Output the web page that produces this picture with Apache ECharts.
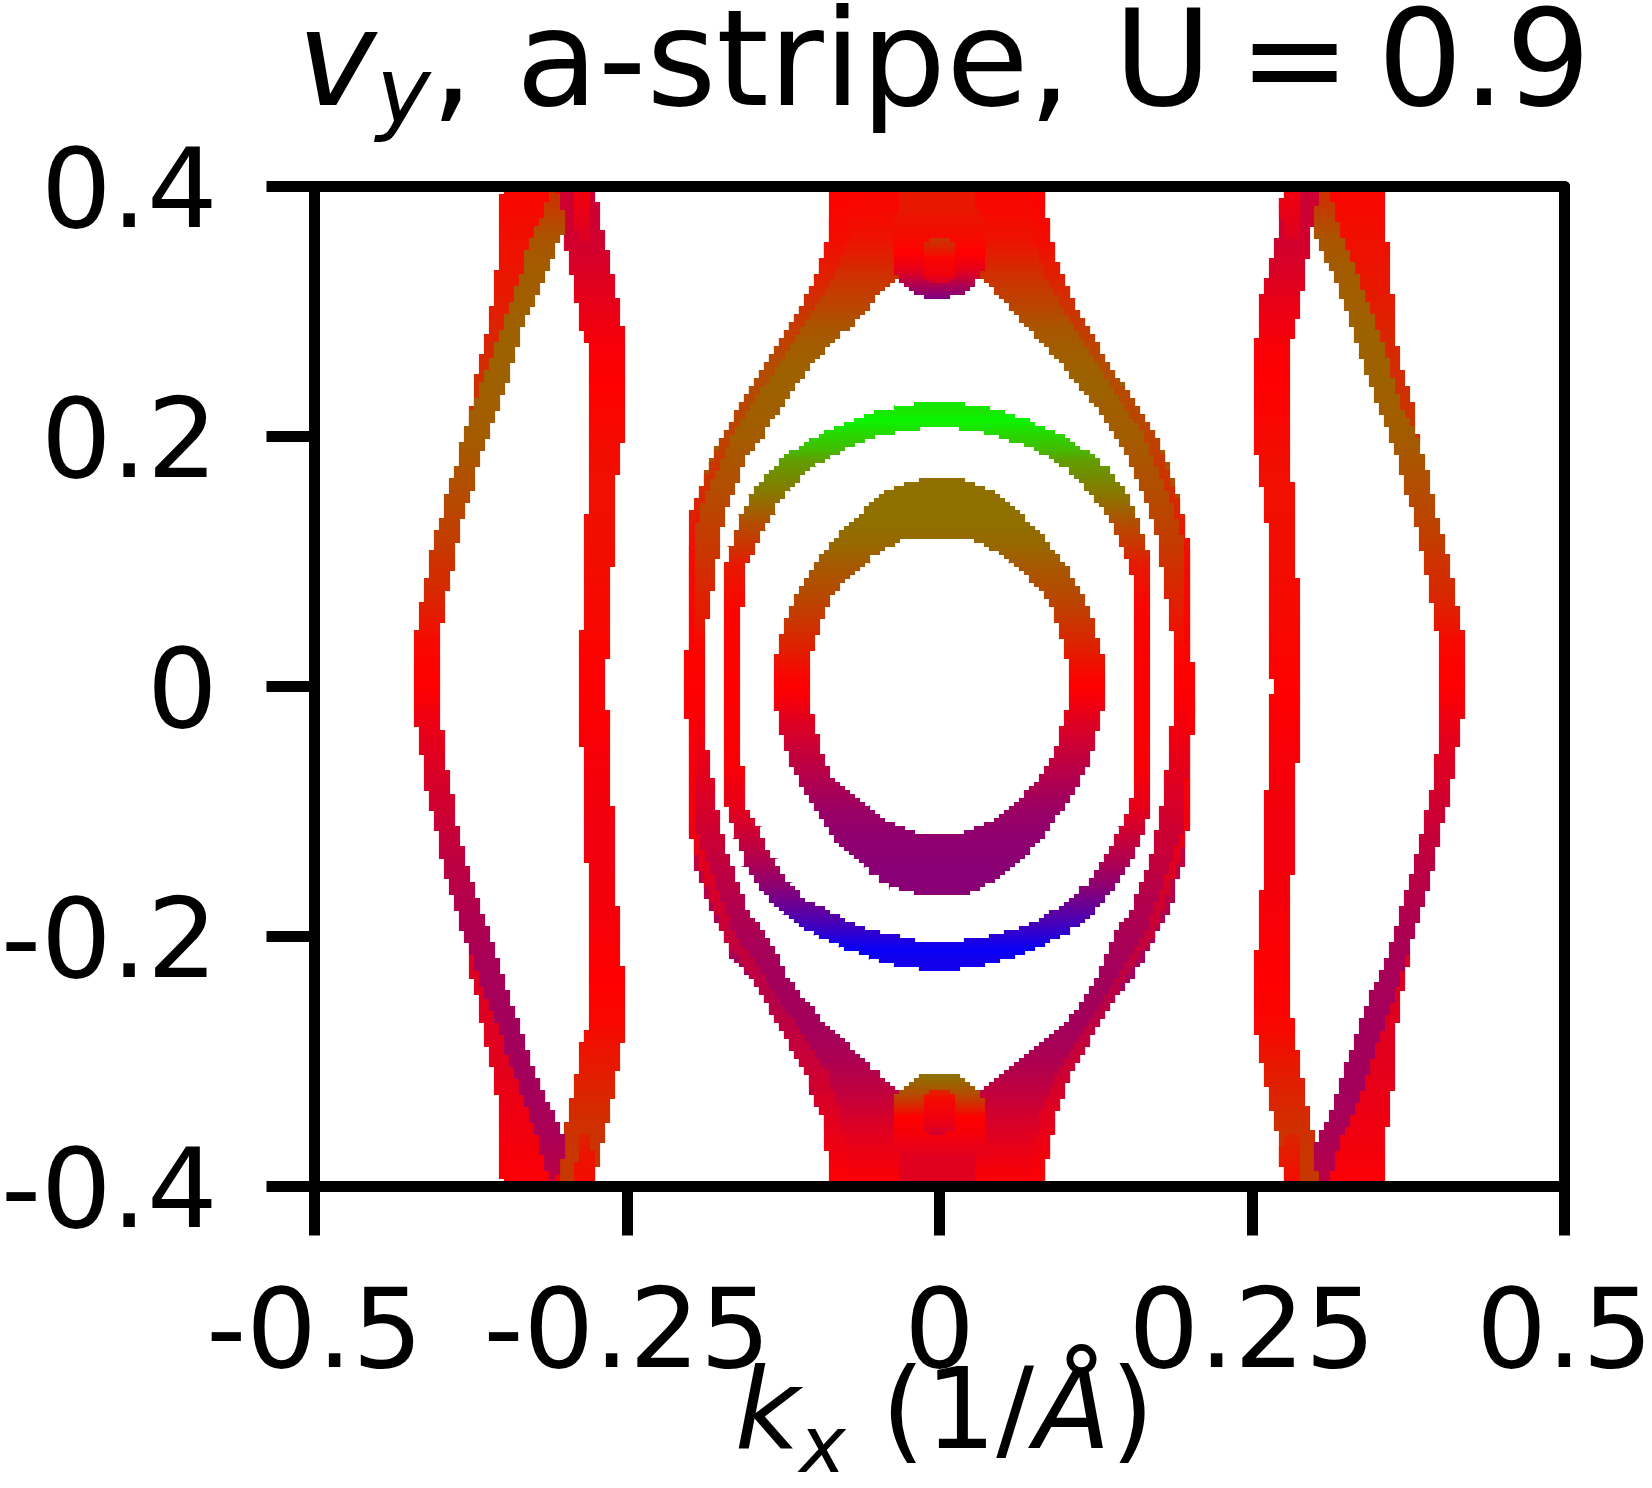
<!DOCTYPE html>
<html lang="en">
<head>
<meta charset="UTF-8">
<title>vy a-stripe U=0.9</title>
<script src="https://cdn.jsdelivr.net/npm/echarts@6/dist/echarts.min.js"></script>
<style>html,body{margin:0;background:#fff}#chart{width:1652px;height:1488px}</style>
</head>
<body>
<div id="chart"></div>
<script>
const xTickLabels = ['-0.5', '-0.25', '0', '0.25', '0.5'];
const yTickLabels = ['-0.4', '-0.2', '0', '0.2', '0.4'];

// rows: [ky, kx left, kx right, vy]   (vy: 0 red, +1 green, -1 blue)
const leftInnerRows = [
  [-0.4,-0.3092,-0.2772,0.22],[-0.3802,-0.3052,-0.2732,0.22],[-0.3612,-0.3012,-0.2692,0.2],[-0.3452,-0.2972,-0.2652,0.18],
  [-0.326,-0.2932,-0.2612,0.14],[-0.3036,-0.2892,-0.2572,0.1],[-0.2819,-0.2852,-0.2532,0.06],[-0.2725,-0.2812,-0.2532,0.03],
  [-0.237,-0.2812,-0.2532,0],[-0.1819,-0.2812,-0.2572,-0.04],[-0.1477,-0.2812,-0.2612,-0.05],[-0.1061,-0.2852,-0.2612,-0.05],
  [-0.0524,-0.2852,-0.2652,-0.03],[-0.0235,-0.2892,-0.2652,-0.01],[0,-0.2892,-0.2692,0],[0.0275,-0.2892,-0.2652,0.01],
  [0.05,-0.2852,-0.2652,0.03],[0.1069,-0.2852,-0.2612,0.05],[0.145,-0.2812,-0.2612,0.06],[0.1733,-0.2812,-0.2572,0.06],
  [0.1997,-0.2812,-0.2532,0.04],[0.2421,-0.2812,-0.2532,0],[0.2733,-0.2812,-0.2532,-0.03],[0.2829,-0.2852,-0.2532,-0.05],
  [0.3044,-0.2892,-0.2572,-0.09],[0.3267,-0.2932,-0.2612,-0.13],[0.346,-0.2972,-0.2652,-0.17],[0.362,-0.3012,-0.2692,-0.19],
  [0.3813,-0.3052,-0.2732,-0.2],[0.4,-0.3092,-0.2772,-0.2]
];
const leftInnerCapTop = [[0.355,-0.2872,-0.2812,-0.14],[0.3813,-0.2932,-0.2812,-0.08],[0.4,-0.2932,-0.2772,-0.04]];
const leftInnerCapBottom = [[-0.4,-0.2932,-0.2772,0.04],[-0.3739,-0.2892,-0.2772,0.08],[-0.36,-0.2892,-0.2812,0.13]];
const leftWedgeTop = [
  [0.2063,-0.3772,-0.3732,0.22],[0.2284,-0.3732,-0.3652,0.2],[0.2559,-0.3692,-0.3532,0.17],[0.2834,-0.3612,-0.3412,0.14],
  [0.311,-0.3572,-0.3332,0.1],[0.3386,-0.3532,-0.3212,0.08],[0.3661,-0.3532,-0.3092,0.05],[0.4,-0.3492,-0.3052,0.02]
];
const leftWedgeBottom = [
  [-0.4,-0.3492,-0.3052,-0.01],[-0.3609,-0.3532,-0.3052,-0.05],[-0.3292,-0.3532,-0.3172,-0.08],[-0.3058,-0.3572,-0.3252,-0.11],
  [-0.2819,-0.3632,-0.3372,-0.12],[-0.2507,-0.3692,-0.3532,-0.13],[-0.2213,-0.3772,-0.3652,-0.12],[-0.2053,-0.3772,-0.3732,-0.12]
];
const leftOuterRows = [
  [-0.4,-0.3112,-0.3092,-0.25],[-0.3898,-0.3132,-0.3052,-0.28],[-0.3772,-0.3172,-0.3012,-0.3],[-0.3612,-0.3212,-0.3012,-0.33],
  [-0.3389,-0.3292,-0.3112,-0.35],[-0.3163,-0.3372,-0.3212,-0.36],[-0.2948,-0.3452,-0.3292,-0.36],[-0.2692,-0.3532,-0.3372,-0.36],
  [-0.2466,-0.3632,-0.3452,-0.35],[-0.2213,-0.3712,-0.3532,-0.34],[-0.1956,-0.3812,-0.3612,-0.32],[-0.1681,-0.3892,-0.3712,-0.29],
  [-0.1411,-0.3972,-0.3792,-0.26],[-0.1152,-0.4012,-0.3856,-0.22],[-0.0907,-0.4084,-0.3892,-0.18],[-0.0651,-0.4124,-0.395,-0.14],
  [-0.0394,-0.4164,-0.3972,-0.1],[-0.0193,-0.4204,-0.4012,-0.05],[0,-0.4204,-0.4012,0],[0.0355,-0.4204,-0.4012,0.03],
  [0.055,-0.4164,-0.3972,0.1],[0.0768,-0.4124,-0.3936,0.16],[0.0961,-0.4084,-0.3892,0.19],[0.1182,-0.4044,-0.3852,0.24],
  [0.1374,-0.3972,-0.3812,0.27],[0.1595,-0.3932,-0.3732,0.3],[0.1788,-0.3852,-0.3692,0.33],[0.2008,-0.3812,-0.3612,0.36],
  [0.2229,-0.3732,-0.3532,0.37],[0.2449,-0.3652,-0.3452,0.38],[0.2669,-0.3572,-0.3392,0.38],[0.289,-0.3492,-0.3332,0.38],
  [0.311,-0.3412,-0.3232,0.37],[0.3331,-0.3332,-0.3132,0.36],[0.3523,-0.3292,-0.3072,0.34],[0.362,-0.3252,-0.3012,0.32],
  [0.378,-0.3172,-0.3012,0.25],[0.3909,-0.3132,-0.3052,0.2],[0.4,-0.3112,-0.3072,0.18]
];

const rightInnerRows = [
  [-0.4,0.2764,0.3084,0.22],[-0.3868,0.2744,0.3044,0.22],[-0.3642,0.2724,0.3004,0.2],[-0.3483,0.2684,0.2964,0.18],
  [-0.3292,0.2644,0.2924,0.14],[-0.3067,0.2584,0.2884,0.1],[-0.2852,0.2564,0.2844,0.06],[-0.2755,0.2524,0.2824,0.03],
  [-0.237,0.2524,0.2804,0],[-0.1736,0.2564,0.2804,-0.04],[-0.1444,0.2604,0.2824,-0.05],[-0.1028,0.2604,0.2844,-0.05],
  [-0.0524,0.2644,0.2864,-0.03],[-0.0108,0.2644,0.2884,-0.005],[0,0.2684,0.2884,0],[0.0116,0.2644,0.2884,0.01],
  [0.05,0.2644,0.2884,0.03],[0.1069,0.2644,0.2844,0.05],[0.145,0.2604,0.2844,0.06],[0.1733,0.2564,0.2804,0.06],
  [0.1964,0.2524,0.2804,0.04],[0.2421,0.2524,0.2804,0],[0.2763,0.2524,0.2804,-0.03],[0.2829,0.2564,0.2844,-0.05],
  [0.3077,0.2564,0.2884,-0.09],[0.33,0.2624,0.2924,-0.14],[0.346,0.2664,0.2944,-0.17],[0.362,0.2704,0.2964,-0.19],
  [0.3846,0.2724,0.3044,-0.2],[0.4,0.2764,0.3084,-0.2]
];
const rightInnerCapTop = [[0.3573,0.2764,0.2884,-0.13],[0.3846,0.2724,0.2884,-0.08],[0.4,0.2764,0.2884,-0.04]];
const rightInnerCapBottom = [[-0.4,0.2764,0.2884,0.04],[-0.3747,0.2724,0.2884,0.1],[-0.36,0.2764,0.2884,0.14]];
const rightWedgeTop = [
  [0.1964,0.3784,0.3824,0.2],[0.2118,0.3704,0.3804,0.2],[0.2339,0.3584,0.3764,0.19],[0.2559,0.3484,0.3684,0.17],
  [0.2834,0.3364,0.3644,0.14],[0.3044,0.3284,0.3624,0.11],[0.3364,0.3164,0.3604,0.08],[0.3661,0.3084,0.3564,0.05],[0.4,0.3064,0.3564,0.02]
];
const rightWedgeBottom = [
  [-0.4,0.3064,0.3564,-0.01],[-0.3665,0.3164,0.3564,-0.05],[-0.3356,0.3244,0.3604,-0.08],[-0.3036,0.3364,0.3644,-0.11],
  [-0.2783,0.3444,0.3644,-0.12],[-0.2532,0.3524,0.3684,-0.13],[-0.2306,0.3604,0.3724,-0.13],[-0.2113,0.3724,0.3764,-0.13]
];
const rightOuterRows = [
  [-0.4,0.3064,0.3104,-0.25],[-0.3926,0.3044,0.3124,-0.28],[-0.3802,0.3004,0.3164,-0.3],[-0.3612,0.3024,0.3204,-0.33],
  [-0.3389,0.3144,0.3324,-0.35],[-0.3163,0.3204,0.3404,-0.36],[-0.2948,0.3284,0.3464,-0.36],[-0.2692,0.3364,0.3564,-0.36],
  [-0.2466,0.3444,0.3644,-0.35],[-0.2213,0.3564,0.3724,-0.34],[-0.1956,0.3644,0.3804,-0.32],[-0.1681,0.3724,0.3884,-0.29],
  [-0.1411,0.3804,0.3964,-0.26],[-0.1152,0.3864,0.4,-0.22],[-0.0907,0.3924,0.4076,-0.18],[-0.0651,0.3964,0.4116,-0.14],
  [-0.0394,0.3996,0.4156,-0.1],[-0.0193,0.3996,0.4196,-0.05],[0,0.3996,0.4196,0],[0.0355,0.3996,0.4196,0.03],
  [0.055,0.3964,0.4156,0.1],[0.0768,0.3924,0.4116,0.16],[0.0961,0.3884,0.4076,0.19],[0.1182,0.3844,0.4036,0.24],
  [0.1374,0.3804,0.3964,0.27],[0.1595,0.3724,0.3924,0.3],[0.1788,0.3684,0.3884,0.33],[0.2008,0.3604,0.3804,0.36],
  [0.2229,0.3524,0.3684,0.37],[0.2449,0.3444,0.3624,0.38],[0.2669,0.3364,0.3564,0.38],[0.289,0.3304,0.3484,0.38],
  [0.311,0.3224,0.3404,0.37],[0.3331,0.3144,0.3324,0.36],[0.3523,0.3044,0.3244,0.34],[0.362,0.3004,0.3204,0.32],
  [0.378,0.3004,0.3164,0.25],[0.3909,0.3044,0.3124,0.2],[0.4,0.3064,0.3104,0.18]
];

const centerLeftRows = [
  [-0.4,-0.086,-0.026,-0.01],[-0.3739,-0.086,-0.026,-0.07],[-0.3549,-0.09,-0.026,-0.13],[-0.342,-0.094,-0.026,-0.18],
  [-0.326,-0.102,-0.03,-0.24],[-0.31,-0.106,-0.05,-0.29],[-0.2948,-0.114,-0.066,-0.33],[-0.2725,-0.126,-0.09,-0.36],
  [-0.2532,-0.138,-0.106,-0.36],[-0.2339,-0.15,-0.122,-0.36],[-0.2149,-0.166,-0.13,-0.35],[-0.1956,-0.174,-0.142,-0.33],
  [-0.1797,-0.182,-0.154,-0.31],[-0.1571,-0.19,-0.162,-0.27],[-0.1348,-0.198,-0.17,-0.23],[-0.1188,-0.198,-0.174,-0.2],
  [-0.0992,-0.202,-0.178,-0.17],[-0.0747,-0.202,-0.182,-0.12],[-0.0524,-0.202,-0.186,-0.08],[-0.0268,-0.202,-0.188,-0.03],
  [0,-0.2052,-0.19,0],[0.0308,-0.202,-0.188,0.02],[0.0548,-0.202,-0.186,0.1],[0.0757,-0.202,-0.182,0.14],
  [0.1014,-0.202,-0.178,0.2],[0.1132,-0.198,-0.178,0.22],[0.1421,-0.194,-0.17,0.27],[0.1581,-0.19,-0.1636,0.3],
  [0.1804,-0.184,-0.156,0.33],[0.1997,-0.174,-0.142,0.36],[0.2187,-0.162,-0.13,0.37],[0.238,-0.152,-0.116,0.38],
  [0.254,-0.142,-0.106,0.38],[0.2733,-0.13,-0.088,0.36],[0.2892,-0.12,-0.07,0.33],[0.3019,-0.112,-0.058,0.28],
  [0.3107,-0.106,-0.052,0.25],[0.3204,-0.102,-0.042,0.22],[0.33,-0.098,-0.03,0.18],[0.3427,-0.094,-0.026,0.13],
  [0.3556,-0.09,-0.026,0.08],[0.3749,-0.086,-0.026,0.04],[0.4,-0.086,-0.026,0.01]
];
const centerLeftSliver = [
  [-0.4,-0.086,-0.074,0],[-0.342,-0.094,-0.08,-0.12],[-0.31,-0.106,-0.09,-0.2],[-0.2532,-0.138,-0.128,-0.28],[-0.1956,-0.174,-0.166,-0.22],
  [-0.1089,-0.202,-0.198,-0.05],[-0.0268,-0.202,-0.198,-0.01],[0.0308,-0.202,-0.198,0.01],[0.1132,-0.202,-0.198,0.06],[0.1421,-0.198,-0.192,0.14],
  [0.1997,-0.174,-0.166,0.26],[0.254,-0.142,-0.132,0.3],[0.3019,-0.112,-0.1,0.2],[0.33,-0.098,-0.084,0.12],[0.3556,-0.09,-0.074,0.05],[0.4,-0.086,-0.074,0]
];
const centerRightRows = [
  [-0.4,0.0252,0.0812,-0.01],[-0.3802,0.0252,0.0852,-0.06],[-0.3642,0.0252,0.0892,-0.11],[-0.342,0.0252,0.0932,-0.18],
  [-0.326,0.0292,0.0972,-0.24],[-0.31,0.0492,0.1052,-0.29],[-0.2948,0.0692,0.1132,-0.33],[-0.2725,0.0972,0.1252,-0.36],
  [-0.2532,0.1132,0.1372,-0.36],[-0.2339,0.1252,0.1532,-0.36],[-0.2149,0.1332,0.1652,-0.35],[-0.1956,0.1412,0.1732,-0.33],
  [-0.1797,0.1532,0.1852,-0.31],[-0.1571,0.1612,0.1892,-0.27],[-0.1378,0.1692,0.1972,-0.23],[-0.1185,0.1732,0.1972,-0.2],
  [-0.0992,0.1772,0.2004,-0.17],[-0.0744,0.1812,0.2004,-0.12],[-0.0331,0.1852,0.2004,-0.05],[-0.0204,0.1892,0.2024,-0.03],
  [0,0.1892,0.2044,0],[0.0308,0.1872,0.2004,0.03],[0.0548,0.1852,0.2004,0.1],[0.0757,0.1812,0.2004,0.14],
  [0.1014,0.1772,0.2004,0.2],[0.1099,0.1772,0.1972,0.22],[0.1388,0.1692,0.1932,0.27],[0.1581,0.1612,0.1892,0.3],
  [0.1804,0.1532,0.1812,0.33],[0.1997,0.1412,0.1732,0.36],[0.2187,0.1292,0.1612,0.37],[0.238,0.115,0.1492,0.38],
  [0.254,0.1012,0.1372,0.38],[0.2733,0.0852,0.1252,0.36],[0.2892,0.0692,0.1172,0.33],[0.3019,0.0572,0.1092,0.28],
  [0.3107,0.05,0.1052,0.25],[0.3204,0.0412,0.1012,0.22],[0.33,0.0292,0.0952,0.18],[0.3427,0.0252,0.0932,0.13],
  [0.3556,0.0252,0.0892,0.08],[0.3749,0.0252,0.0852,0.04],[0.4,0.0252,0.0812,0.01]
];
const centerRightSliver = [
  [-0.4,0.0692,0.0812,0],[-0.342,0.0812,0.0932,-0.12],[-0.31,0.0932,0.1052,-0.2],[-0.2532,0.1292,0.1372,-0.28],[-0.1956,0.1652,0.1732,-0.22],
  [-0.1089,0.1972,0.2004,-0.05],[-0.0204,0.1992,0.2024,-0.01],[0.0308,0.1972,0.2004,0.01],[0.1099,0.1972,0.2004,0.06],[0.1388,0.1892,0.1932,0.14],
  [0.1997,0.1652,0.1732,0.26],[0.254,0.1292,0.1372,0.3],[0.3019,0.1,0.1092,0.2],[0.33,0.0852,0.0972,0.12],[0.3556,0.0772,0.0892,0.05],[0.4,0.0692,0.0812,0]
];

const pocketTopRows = [
  [0.3107,-0.006,0.0052,-0.5],[0.314,-0.018,0.0172,-0.44],[0.3171,-0.022,0.0212,-0.38],[0.3204,-0.026,0.0252,-0.33],
  [0.3237,-0.03,0.0292,-0.27],[0.33,-0.034,0.0332,-0.15],[0.3364,-0.036,0.0352,-0.07],[0.3468,-0.038,0.0372,0],
  [0.3625,-0.038,0.0372,0.05],[0.3777,-0.034,0.0332,0.08],[0.38,-0.03,0.0292,0.09],[0.4,-0.03,0.0292,0.1]
];
const pocketTopCore = [
  [0.3237,-0.006,0.0052,-0.14],[0.327,-0.01,0.0092,-0.1],[0.3303,-0.014,0.0132,-0.05],[0.3427,-0.014,0.0132,0.02],[0.3526,-0.014,0.0132,0.15],[0.3592,-0.006,0.0052,0.22]
];
const pocketBottomRows = [
  [-0.4,-0.03,0.0292,-0.12],[-0.3769,-0.03,0.0292,-0.12],[-0.3609,-0.038,0.0372,-0.05],[-0.3444,-0.038,0.0372,0],
  [-0.3356,-0.036,0.0352,0.15],[-0.3259,-0.034,0.0332,0.3],[-0.3226,-0.03,0.0292,0.33],[-0.3196,-0.026,0.0252,0.37],
  [-0.3163,-0.022,0.0212,0.4],[-0.3133,-0.018,0.0172,0.43],[-0.31,-0.01,0.0092,0.45]
];
const pocketBottomCore = [
  [-0.3582,-0.002,0,-0.18],[-0.3549,-0.01,0.0092,-0.15],[-0.3516,-0.014,0.0132,-0.1],[-0.3444,-0.014,0.0132,-0.06],[-0.3293,-0.014,0.0132,0.04],[-0.3259,-0.01,0.0092,0.1],[-0.323,-0.002,0,0.12]
];

// sections: [outer kx, outer ky, inner kx, inner ky, vy]
const midRingTop = [
  [-0.17,0,-0.158,0,0],[-0.17,0.0631,-0.158,0.0631,0.02],[-0.17,0.098,-0.154,0.098,0.1],[-0.166,0.1127,-0.15,0.1044,0.18],
  [-0.158,0.1374,-0.142,0.1237,0.3],[-0.15,0.154,-0.134,0.1388,0.42],[-0.138,0.171,-0.122,0.1567,0.52],[-0.122,0.1854,-0.102,0.176,0.62],
  [-0.102,0.198,-0.09,0.182,0.74],[-0.082,0.2077,-0.066,0.195,0.84],[-0.058,0.2173,-0.046,0.2014,0.92],[-0.034,0.2237,-0.026,0.2044,0.96],
  [-0.01,0.227,-0.006,0.2077,0.93],[0,0.2283,0,0.2096,0.9],[0.0092,0.227,0.0052,0.2077,0.93],[0.0332,0.2237,0.0332,0.2044,0.96],
  [0.0572,0.2173,0.0452,0.2014,0.94],[0.0812,0.2077,0.0652,0.195,0.84],[0.1012,0.198,0.0852,0.1854,0.74],[0.1212,0.1854,0.1012,0.176,0.62],
  [0.1372,0.171,0.1172,0.1595,0.5],[0.1492,0.154,0.1292,0.1457,0.42],[0.1572,0.1374,0.1412,0.125,0.3],[0.1652,0.1127,0.1492,0.1044,0.18],
  [0.1692,0.098,0.1532,0.098,0.1],[0.1692,0.0631,0.1572,0.0631,0.02],[0.1692,0,0.1572,0,0]
];
const midRingBottom = [
  [-0.17,0,-0.158,0,0],[-0.17,-0.062,-0.158,-0.062,-0.02],[-0.17,-0.0965,-0.154,-0.0965,-0.1],[-0.162,-0.1213,-0.146,-0.113,-0.2],
  [-0.154,-0.1447,-0.134,-0.1378,-0.32],[-0.142,-0.164,-0.122,-0.1557,-0.45],[-0.126,-0.1813,-0.106,-0.1714,-0.6],[-0.102,-0.197,-0.086,-0.1813,-0.72],
  [-0.082,-0.2067,-0.066,-0.1907,-0.83],[-0.058,-0.2166,-0.046,-0.197,-0.93],[-0.034,-0.2226,-0.03,-0.2003,-0.97],[-0.014,-0.226,-0.01,-0.2053,-0.95],
  [0,-0.2276,0,-0.2053,-0.93],[0.0132,-0.226,0.0098,-0.2053,-0.95],[0.0332,-0.2226,0.0292,-0.202,-0.97],[0.0572,-0.2166,0.0532,-0.197,-0.93],
  [0.0812,-0.2067,0.0732,-0.1907,-0.83],[0.1012,-0.197,0.0892,-0.1813,-0.72],[0.1212,-0.1813,0.1052,-0.1714,-0.6],[0.1372,-0.164,0.1212,-0.1557,-0.45],
  [0.1492,-0.1447,0.1332,-0.1378,-0.32],[0.1612,-0.1213,0.1452,-0.113,-0.2],[0.1692,-0.0965,0.1532,-0.0965,-0.1],[0.1692,-0.062,0.1572,-0.062,-0.02],[0.1692,0,0.1572,0,0]
];
const innerRingTop = [
  [-0.134,0,-0.106,0,0],[-0.134,0.0107,-0.106,0.0107,0.03],[-0.13,0.0273,-0.102,0.0273,0.11],[-0.122,0.0548,-0.094,0.0548,0.22],
  [-0.114,0.0741,-0.086,0.0741,0.29],[-0.102,0.0948,-0.066,0.0934,0.34],[-0.082,0.1209,-0.058,0.1003,0.4],[-0.062,0.1405,-0.042,0.1116,0.43],
  [-0.042,0.1567,-0.026,0.1182,0.44],[-0.014,0.1661,-0.014,0.1195,0.44],[0.0132,0.1661,0.0132,0.1195,0.44],[0.0412,0.1567,0.0252,0.1182,0.44],
  [0.0612,0.1405,0.0412,0.1116,0.43],[0.0812,0.1209,0.0572,0.1003,0.4],[0.1012,0.0948,0.0652,0.0934,0.34],[0.1132,0.0741,0.0852,0.0741,0.29],
  [0.1212,0.0548,0.0932,0.0548,0.22],[0.1292,0.0273,0.1012,0.0273,0.11],[0.1332,0.0107,0.1052,0.0107,0.03],[0.1332,0,0.1052,0,0]
];
const innerRingBottom = [
  [-0.134,0,-0.106,0,0],[-0.134,-0.0069,-0.106,-0.0069,-0.02],[-0.13,-0.0221,-0.102,-0.0221,-0.1],[-0.122,-0.0538,-0.094,-0.0538,-0.23],
  [-0.114,-0.073,-0.086,-0.073,-0.3],[-0.102,-0.0937,-0.066,-0.0896,-0.37],[-0.082,-0.1254,-0.058,-0.0956,-0.42],[-0.062,-0.143,-0.042,-0.1083,-0.44],
  [-0.042,-0.159,-0.026,-0.1146,-0.45],[-0.014,-0.167,-0.014,-0.1188,-0.46],[0.0172,-0.167,0.0132,-0.1188,-0.46],[0.0412,-0.1557,0.0252,-0.1146,-0.45],
  [0.0612,-0.1414,0.0412,-0.1083,-0.44],[0.0812,-0.1213,0.0572,-0.0987,-0.42],[0.1012,-0.0937,0.0652,-0.091,-0.37],[0.1132,-0.073,0.0812,-0.0717,-0.3],
  [0.1212,-0.0538,0.0932,-0.051,-0.23],[0.1292,-0.0221,0.1012,-0.0221,-0.1],[0.1332,-0.0069,0.1052,-0.0069,-0.02],[0.1332,0,0.1052,0,0]
];

const myChart = echarts.init(document.getElementById('chart'));
const FONT = 'DejaVu Sans';
const BLACK = '#000';
const AXIS_W = 11;
const CELL_X = 0.004, CELL_Y = 0.0032; // size of one plot cell in the source map

function vyColor(v) {
  const a = Math.min(1, Math.abs(v));
  const r = Math.round(255 * (1 - a));
  const c = Math.round(255 * a);
  return v >= 0 ? `rgb(${r},${c},0)` : `rgb(${r},0,${c})`;
}

function snap(v, origin, step) {
  return origin + Math.round((v - origin) / step) * step;
}

// walk an edge on the cell lattice so the ribbon keeps the blocky look of the map
function stairs(x0, y0, x1, y1) {
  const n = Math.ceil(Math.max(Math.abs(x1 - x0) / CELL_X, Math.abs(y1 - y0) / CELL_Y)) * 2 + 1;
  const pts = [];
  let px = null, py = null;
  for (let i = 0; i <= n; i++) {
    const t = i / n;
    const sx = snap(x0 + (x1 - x0) * t, -0.5, CELL_X);
    const sy = snap(y0 + (y1 - y0) * t, -0.4, CELL_Y);
    if (px !== null && sx !== px && sy !== py) pts.push([sx, py]);
    if (sx !== px || sy !== py) pts.push([sx, sy]);
    px = sx; py = sy;
  }
  return pts;
}

// the colour of a band follows ky; one gradient per band keeps the joins invisible
function bandFill(api, sections) {
  const half = sections.slice(0, Math.ceil(sections.length / 2));
  const marks = half
    .map(s => ({ y: api.coord([0, (s[1] + s[3]) / 2])[1], v: s[4] }))
    .sort((p, q) => p.y - q.y);
  const yMin = marks[0].y, yMax = marks[marks.length - 1].y;
  const stops = marks.map(m => ({ offset: (m.y - yMin) / (yMax - yMin), color: vyColor(m.v) }));
  return new echarts.graphic.LinearGradient(0, yMin, 0, yMax, stops, true);
}

function ribbon(name, sections, whole) {
  let fill = null;
  return {
    name,
    type: 'custom',
    coordinateSystem: 'cartesian2d',
    clip: true,
    silent: true,
    encode: { x: [0, 2], y: [1, 3] },
    data: sections,
    renderItem(params, api) {
      const i = params.dataIndex;
      if (i >= sections.length - 1) return null;
      const a = sections[i], b = sections[i + 1];
      const pts = stairs(a[0], a[1], b[0], b[1]).concat(stairs(b[2], b[3], a[2], a[3]))
        .map(p => api.coord(p));
      if (!fill) fill = bandFill(api, whole ? sections.concat(sections) : sections);
      return { type: 'polygon', shape: { points: pts }, style: { fill, stroke: fill, lineWidth: 1.2 } };
    }
  };
}

const fromRows = rows => rows.map(r => [r[1], r[0], r[2], r[0], r[3]]);

const rowBands = [
  ['left inner', leftInnerRows], ['left inner cap top', leftInnerCapTop], ['left inner cap bottom', leftInnerCapBottom],
  ['left wedge top', leftWedgeTop], ['left wedge bottom', leftWedgeBottom], ['left outer', leftOuterRows],
  ['right inner', rightInnerRows], ['right inner cap top', rightInnerCapTop], ['right inner cap bottom', rightInnerCapBottom],
  ['right wedge top', rightWedgeTop], ['right wedge bottom', rightWedgeBottom], ['right outer', rightOuterRows],
  ['center left', centerLeftRows], ['center right', centerRightRows],
  ['center left sliver', centerLeftSliver], ['center right sliver', centerRightSliver],
  ['pocket top', pocketTopRows], ['pocket top core', pocketTopCore],
  ['pocket bottom', pocketBottomRows], ['pocket bottom core', pocketBottomCore]
];
const ringBands = [
  ['mid ring top', midRingTop], ['mid ring bottom', midRingBottom],
  ['inner ring top', innerRingTop], ['inner ring bottom', innerRingBottom]
];

const frameAxis = {
  z: 10,
  axisLine: { show: true, onZero: false, lineStyle: { color: BLACK, width: AXIS_W } },
  axisTick: { show: false }, axisLabel: { show: false }, splitLine: { show: false }
};

myChart.setOption({
  backgroundColor: '#fff',
  animation: false,
  title: {
    left: 292, top: -2,
    text: '{v|v}{y|y}{n|, a-stripe, U}{s| }{n|=}{s| }{n|0.9}',
    textStyle: {
      fontWeight: 'normal',
      rich: {
        v: { fontFamily: FONT, fontStyle: 'italic', fontWeight: 'normal', fontSize: 134, color: BLACK },
        y: { fontFamily: FONT, fontStyle: 'italic', fontWeight: 'normal', fontSize: 92, color: BLACK, verticalAlign: 'bottom', padding: [0, 0, -8, 0] },
        n: { fontFamily: FONT, fontWeight: 'normal', fontSize: 134, color: BLACK },
        s: { fontFamily: FONT, fontWeight: 'normal', fontSize: 84, color: BLACK }
      }
    }
  },
  grid: { left: 314.5, right: 87.5, top: 186.5, bottom: 301.5, outerBoundsMode: 'none' },
  xAxis: [
    {
      type: 'value', min: -0.5, max: 0.5, interval: 0.25, z: 10,
      axisLine: { onZero: false, lineStyle: { color: BLACK, width: AXIS_W } },
      axisTick: { show: true, length: 49, lineStyle: { color: BLACK, width: AXIS_W } },
      axisLabel: { margin: 96, fontFamily: FONT, fontSize: 111, color: BLACK, formatter: (v, i) => xTickLabels[i], hideOverlap: false },
      splitLine: { show: false },
      name: '{k|k}{x|x}{n| (1/}{a|Å}{n|)}',
      nameLocation: 'middle', nameGap: 176, nameMoveOverlap: false,
      nameTextStyle: {
        padding: [0, 0, 0, 10],
        rich: {
          k: { fontFamily: FONT, fontStyle: 'italic', fontSize: 112, color: BLACK },
          x: { fontFamily: FONT, fontStyle: 'italic', fontSize: 78, color: BLACK, verticalAlign: 'bottom', padding: [0, 0, -16, 0] },
          n: { fontFamily: FONT, fontSize: 112, color: BLACK },
          a: { fontFamily: FONT, fontStyle: 'italic', fontSize: 112, color: BLACK }
        }
      }
    },
    Object.assign({ type: 'value', min: -0.5, max: 0.5, position: 'top' }, frameAxis)
  ],
  yAxis: [
    {
      type: 'value', min: -0.4, max: 0.4, interval: 0.2, z: 10,
      axisLine: { onZero: false, lineStyle: { color: BLACK, width: AXIS_W } },
      axisTick: { show: true, length: 48, lineStyle: { color: BLACK, width: AXIS_W } },
      axisLabel: { margin: 97, verticalAlign: 'top', lineHeight: 24, fontFamily: FONT, fontSize: 111, color: BLACK, formatter: (v, i) => yTickLabels[i] },
      splitLine: { show: false }
    },
    Object.assign({ type: 'value', min: -0.4, max: 0.4, position: 'right' }, frameAxis)
  ],
  series: rowBands.map(b => ribbon(b[0], fromRows(b[1]), true)).concat(ringBands.map(b => ribbon(b[0], b[1], false)))
});
</script>
</body>
</html>
